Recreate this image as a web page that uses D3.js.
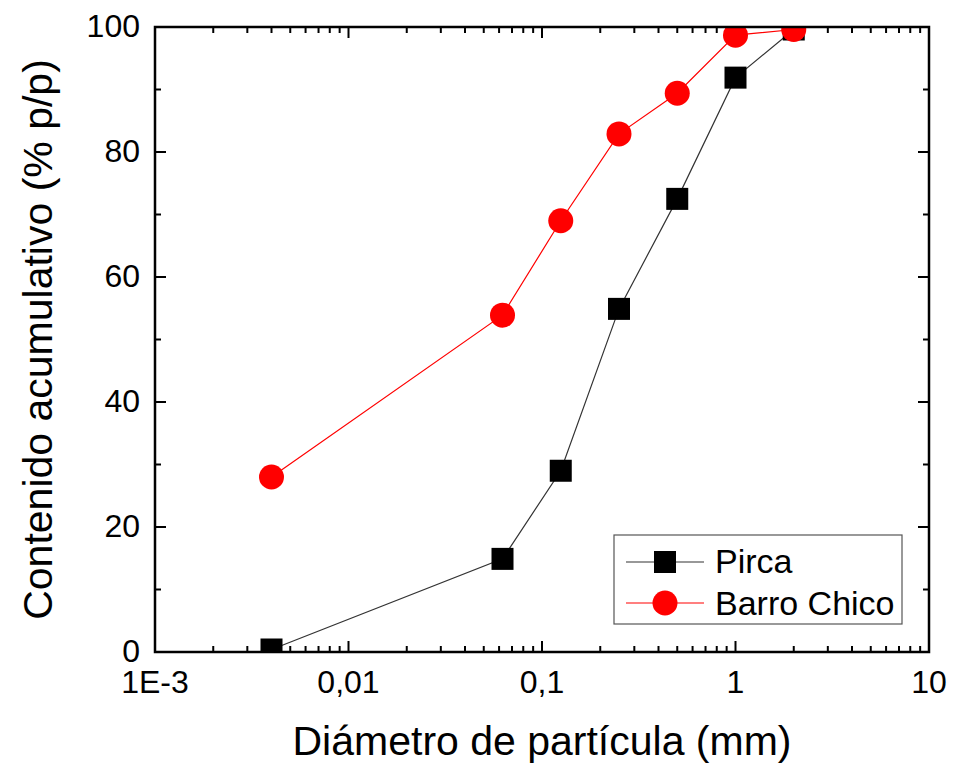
<!DOCTYPE html>
<html>
<head>
<meta charset="utf-8">
<script src="https://cdn.jsdelivr.net/npm/d3@7"></script>
<style>
  body { margin: 0; background: #fff; }
  text { font-family: "Liberation Sans", Arial, sans-serif; fill: #000; }
</style>
</head>
<body>
<div id="chart-area"></div>
<script>
// particle diameter (mm)
const diameters = [0.004, 0.0625, 0.125, 0.25, 0.5, 1, 2]
const pirca = [0.4, 14.9, 29, 54.9, 72.5, 91.9, 99.6]
const barroChico = [28, 53.9, 69, 82.9, 89.4, 98.7, 99.6]
const xTicks = [0.001, 0.01, 0.1, 1, 10]
const xTickLabels = ["1E-3", "0,01", "0,1", "1", "10"]
const yTicks = [0, 20, 40, 60, 80, 100]

const W = 953, H = 769
const MARGIN = { LEFT: 155, RIGHT: 24, TOP: 27, BOTTOM: 117 }
const WIDTH = W - MARGIN.LEFT - MARGIN.RIGHT
const HEIGHT = H - MARGIN.TOP - MARGIN.BOTTOM

const svg = d3.select("#chart-area").append("svg")
  .attr("width", W)
  .attr("height", H)

const g = svg.append("g")
  .attr("transform", `translate(${MARGIN.LEFT}, ${MARGIN.TOP})`)

const x = d3.scaleLog().domain([0.001, 10]).range([0, WIDTH])
const y = d3.scaleLinear().domain([0, 100]).range([HEIGHT, 0])

svg.append("defs").append("clipPath").attr("id", "clip")
  .append("rect").attr("width", WIDTH).attr("height", HEIGHT)

// minor ticks
const minorX = []
for (let e = -3; e < 1; e++) {
  for (let k = 2; k <= 9; k++) minorX.push(k * Math.pow(10, e))
}
const minorY = [10, 30, 50, 70, 90]

const tickG = g.append("g").attr("stroke", "#000").attr("stroke-width", 2)
// bottom & top
xTicks.forEach(v => {
  tickG.append("line").attr("x1", x(v)).attr("x2", x(v)).attr("y1", HEIGHT).attr("y2", HEIGHT - 11)
  tickG.append("line").attr("x1", x(v)).attr("x2", x(v)).attr("y1", 0).attr("y2", 11)
})
minorX.forEach(v => {
  tickG.append("line").attr("x1", x(v)).attr("x2", x(v)).attr("y1", HEIGHT).attr("y2", HEIGHT - 6)
  tickG.append("line").attr("x1", x(v)).attr("x2", x(v)).attr("y1", 0).attr("y2", 6)
})
// left & right
yTicks.forEach(v => {
  tickG.append("line").attr("x1", 0).attr("x2", 11).attr("y1", y(v)).attr("y2", y(v))
  tickG.append("line").attr("x1", WIDTH).attr("x2", WIDTH - 11).attr("y1", y(v)).attr("y2", y(v))
})
minorY.forEach(v => {
  tickG.append("line").attr("x1", 0).attr("x2", 6).attr("y1", y(v)).attr("y2", y(v))
  tickG.append("line").attr("x1", WIDTH).attr("x2", WIDTH - 6).attr("y1", y(v)).attr("y2", y(v))
})

// tick labels
g.selectAll(".xlab").data(xTicks).enter().append("text")
  .attr("x", d => x(d))
  .attr("y", HEIGHT + 41)
  .attr("text-anchor", "middle")
  .attr("font-size", 32)
  .text((d, i) => xTickLabels[i])

g.selectAll(".ylab").data(yTicks).enter().append("text")
  .attr("x", -15)
  .attr("y", d => y(d) + 9.5)
  .attr("text-anchor", "end")
  .attr("font-size", 32)
  .text(d => d)

// series
const plot = g.append("g").attr("clip-path", "url(#clip)")
const pts = (vals) => diameters.map((d, i) => [d, vals[i]])
const line = d3.line().x(d => x(d[0])).y(d => y(d[1]))

plot.append("path").datum(pts(pirca))
  .attr("d", line).attr("fill", "none").attr("stroke", "#333").attr("stroke-width", 1.2)
plot.append("path").datum(pts(barroChico))
  .attr("d", line).attr("fill", "none").attr("stroke", "#ff0000").attr("stroke-width", 1.2)

plot.selectAll(".sq").data(pts(pirca)).enter().append("rect")
  .attr("x", d => x(d[0]) - 11)
  .attr("y", d => y(d[1]) - 11)
  .attr("width", 22).attr("height", 22)
  .attr("fill", "#000")

plot.selectAll(".ci").data(pts(barroChico)).enter().append("circle")
  .attr("cx", d => x(d[0]))
  .attr("cy", d => y(d[1]))
  .attr("r", 12.5)
  .attr("fill", "#ff0000")

// frame
g.append("rect").attr("width", WIDTH).attr("height", HEIGHT)
  .attr("fill", "none").attr("stroke", "#000").attr("stroke-width", 2.5)

// legend
const lg = svg.append("g").attr("transform", "translate(614, 535)")
lg.append("rect").attr("width", 288).attr("height", 89)
  .attr("fill", "#fff").attr("stroke", "#555").attr("stroke-width", 1.2)
lg.append("line").attr("x1", 12).attr("x2", 90).attr("y1", 27).attr("y2", 27)
  .attr("stroke", "#333").attr("stroke-width", 1.2)
lg.append("rect").attr("x", 40).attr("y", 16).attr("width", 22).attr("height", 22).attr("fill", "#000")
lg.append("text").attr("x", 101).attr("y", 38).attr("font-size", 34).text("Pirca")
lg.append("line").attr("x1", 12).attr("x2", 90).attr("y1", 68).attr("y2", 68)
  .attr("stroke", "#ff0000").attr("stroke-width", 1.2)
lg.append("circle").attr("cx", 51).attr("cy", 68).attr("r", 12.5).attr("fill", "#ff0000")
lg.append("text").attr("x", 101).attr("y", 80).attr("font-size", 34).text("Barro Chico")

// axis titles
svg.append("text")
  .attr("x", MARGIN.LEFT + WIDTH / 2)
  .attr("y", 755)
  .attr("text-anchor", "middle")
  .attr("font-size", 41)
  .text("Diámetro de partícula (mm)")

svg.append("text")
  .attr("transform", `translate(52, ${MARGIN.TOP + HEIGHT / 2}) rotate(-90)`)
  .attr("text-anchor", "middle")
  .attr("font-size", 41)
  .text("Contenido acumulativo (% p/p)")
</script>
</body>
</html>
